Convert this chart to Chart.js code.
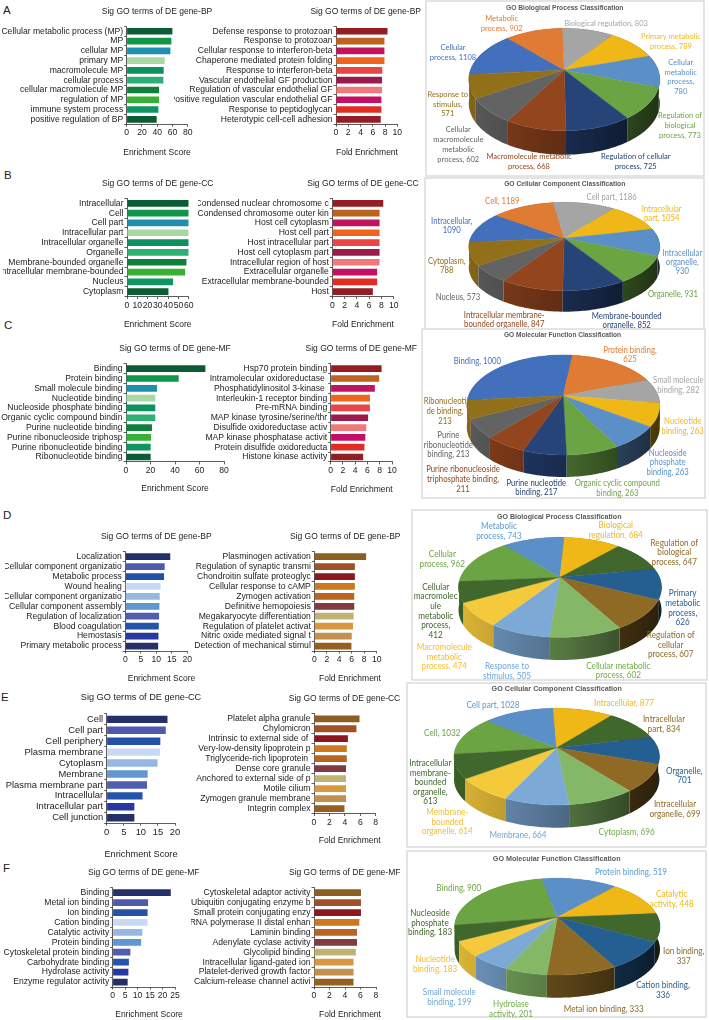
<!DOCTYPE html>
<html>
<head>
<meta charset="utf-8">
<title>GO enrichment</title>
<script src="https://cdn.jsdelivr.net/npm/chart.js@4/dist/chart.umd.min.js"></script>
<style>
  html, body { margin: 0; padding: 0; background: #fff; }
  body { position: relative; width: 709px; height: 1020px; overflow: hidden; }
  canvas { position: absolute; }
  .tag { position: absolute; font: 11.5px "Liberation Sans", sans-serif; color: #222; line-height: 12px; }
</style>
</head>
<body>
<span class="tag" style="left:3px;top:4px">A</span>
<span class="tag" style="left:4px;top:169px">B</span>
<span class="tag" style="left:4px;top:319px">C</span>
<span class="tag" style="left:3px;top:509px">D</span>
<span class="tag" style="left:1px;top:691px">E</span>
<span class="tag" style="left:3px;top:862px">F</span>
<script>
// Bar data, row by row
const aTermsL = ["Cellular metabolic process (MP)", "MP", "cellular MP", "primary MP", "macromolecule MP", "cellular process", "cellular macromolecule MP", "regulation of MP", "immune system process", "positive regulation of BP"];
const aScores = [59.9, 58.6, 57.3, 49.8, 48.5, 48.1, 42.4, 42.4, 41.5, 39.3];
const aTermsR = ["Defense response to protozoan", "Response to protozoan", "Cellular response to interferon-beta", "Chaperone mediated protein folding", "Response to interferon-beta", "Vascular endothelial GF production", "Regulation of vascular endothelial GF", "Positive regulation vascular endothelial GF", "Response to peptidoglycan", "Heterotypic cell-cell adhesion"];
const aFold = [8.4, 7.9, 7.9, 7.9, 7.55, 7.5, 7.5, 7.4, 7.4, 7.3];

const bTermsL = ["Intracellular", "Cell", "Cell part", "Intracellular part", "Intracellular organelle", "Organelle", "Membrane-bounded organelle", "Intracellular membrane-bounded", "Nucleus", "Cytoplasm"];
const bScores = [60, 60, 60, 60, 60, 60, 57.8, 56.5, 44.8, 40.3];
const bTermsR = ["Condensed nuclear chromosome c", "Condensed chromosome outer kin", "Host cell cytoplasm", "Host cell part", "Host intracellular part", "Host cell cytoplasm part", "Intracellular region of host", "Extracellular organelle", "Extracellular membrane-bounded", "Host"];
const bFold = [8.3, 7.7, 7.7, 7.7, 7.7, 7.7, 7.7, 7.3, 7.3, 6.6];

const cTermsL = ["Binding", "Protein binding", "Small molecule binding", "Nucleotide binding", "Nucleoside phosphate binding", "Organic cyclic compound bindin", "Purine nucleotide binding", "Purine ribonucleoside triphosp", "Purine ribonucleotide binding", "Ribonucleotide binding"];
const cScores = [64.8, 43, 25.3, 23.9, 23.9, 23.9, 21.2, 20.4, 20.1, 20.1];
const cTermsR = ["Hsp70 protein binding", "Intramolecular oxidoreductase ", "Phosphatidylinositol 3-kinase ", "Interleukin-1 receptor binding", "Pre-mRNA binding", "MAP kinase tyrosine/serine/thr", "Disulfide oxidoreductase activ", "MAP kinase phosphatase activit", "Protein disulfide oxidoreducta", "Histone kinase activity"];
const cFold = [8.3, 7.9, 7.2, 6.4, 6.4, 6.1, 5.8, 5.65, 5.5, 5.3];

const dTermsL = ["Localization", "Cellular component organizatio", "Metabolic process", "Wound healing", "Cellular component organizatio", "Cellular component assembly", "Regulation of localization", "Blood coagulation", "Hemostasis", "Primary metabolic process"];
const dScores = [14.5, 12.7, 12.5, 11.4, 11.1, 11, 10.9, 10.8, 10.7, 10.6];
const dTermsR = ["Plasminogen activation", "Regulation of synaptic transmi", "Chondroitin sulfate proteoglyc", "Cellular response to cAMP", "Zymogen activation", "Definitive hemopoiesis", "Megakaryocyte differentiation", "Regulation of platelet activat", "Nitric oxide mediated signal t", "Detection of mechanical stimul"];
const dFold = [8.3, 6.5, 6.5, 6.5, 6.4, 6.4, 6.3, 6.2, 6, 5.95];

const eTermsL = ["Cell", "Cell part", "Cell periphery", "Plasma membrane", "Cytoplasm", "Membrane", "Plasma membrane part", "Intracellular", "Intracellular part", "Cell junction"];
const eScores = [17.8, 17.3, 15.7, 15.6, 14.9, 12, 11.8, 10.5, 8.1, 8.1];
const eTermsR = ["Platelet alpha granule", "Chylomicron", "Intrinsic to external side of ", "Very-low-density lipoprotein p", "Triglyceride-rich lipoprotein ", "Dense core granule", "Anchored to external side of p", "Motile cilium", "Zymogen granule membrane", "Integrin complex"];
const eFold = [5.9, 5.5, 4.4, 4.25, 4.25, 4.15, 4.15, 4.15, 4.15, 3.95];

const fTermsL = ["Binding", "Metal ion binding", "Ion binding", "Cation binding", "Catalytic activity", "Protein binding", "Cytoskeletal protein binding", "Carbohydrate binding", "Hydrolase activity", "Enzyme regulator activity"];
const fScores = [23.3, 14.2, 14, 14, 11.9, 11.4, 7.1, 6.5, 6.3, 6];
const fTermsR = ["Cytoskeletal adaptor activity", "Ubiquitin conjugating enzyme b", "Small protein conjugating enzy", "RNA polymerase II distal enhan", "Laminin binding", "Adenylate cyclase activity", "Glycolipid binding", "Intracellular ligand-gated ion", "Platelet-derived growth factor", "Calcium-release channel activi"];
const fFold = [6.06, 6.06, 6.06, 5.85, 5.55, 5.55, 5.4, 5.1, 5.1, 5.1];

// Pie data, largest first as the slices run clockwise
const pieATerms = [["Cellular", "process, 1108"], ["Metabolic", "process, 902"], ["Biological regulation, 803"], ["Primary metabolic", "process, 789"], ["Cellular", "metabolic", "process,", "780"], ["Regulation of", "biological", "process, 773"], ["Regulation of cellular", "process, 725"], ["Macromolecule metabolic", "process, 668"], ["Cellular", "macromolecule", "metabolic", "process, 602"], ["Response to", "stimulus,", "571"]];
const pieAValues = [1108, 902, 803, 789, 780, 773, 725, 668, 602, 571];
const pieBTerms = [["Intracellular,", "1090"], ["Cell, 1189"], ["Cell part, 1186"], ["Intracellular", "part, 1054"], ["Intracellular", "organelle,", "930"], ["Organelle, 931"], ["Membrane-bounded", "organelle, 852"], ["Intracellular membrane-", "bounded organelle, 847"], ["Nucleus, 573"], ["Cytoplasm,", "788"]];
const pieBValues = [1090, 1189, 1186, 1054, 930, 931, 852, 847, 573, 788];
const pieCTerms = [["Binding, 1000"], ["Protein binding,", "625"], ["Small molecule", "binding, 282"], ["Nucleotide", "binding, 263"], ["Nucleoside", "phosphate", "binding, 263"], ["Organic cyclic compound", "binding, 263"], ["Purine nucleotide", "binding, 217"], ["Purine ribonucleoside", "triphosphate binding,", "211"], ["Purine", "ribonucleotide", "binding, 213"], ["Ribonucleoti", "de binding,", "213"]];
const pieCValues = [1000, 625, 282, 263, 263, 263, 217, 211, 213, 213];
const pieDTerms = [["Cellular", "process, 962"], ["Metabolic", "process, 743"], ["Biological", "regulation, 684"], ["Regulation of", "biological", "process, 647"], ["Primary", "metabolic", "process,", "626"], ["Regulation of", "cellular", "process, 607"], ["Cellular metabolic", "process, 602"], ["Response to", "stimulus, 505"], ["Macromolecule", "metabolic", "process, 474"], ["Cellular", "macromolec", "ule", "metabolic", "process,", "412"]];
const pieDValues = [962, 743, 684, 647, 626, 607, 602, 505, 474, 412];
const pieETerms = [["Cell, 1032"], ["Cell part, 1028"], ["Intracellular, 877"], ["Intracellular", "part, 834"], ["Organelle,", "701"], ["Intracellular", "organelle, 699"], ["Cytoplasm, 696"], ["Membrane, 664"], ["Membrane-", "bounded", "organelle, 614"], ["Intracellular", "membrane-", "bounded", "organelle,", "613"]];
const pieEValues = [1032, 1028, 877, 834, 701, 699, 696, 664, 614, 613];
const pieFTerms = [["Binding, 900"], ["Protein binding, 519"], ["Catalytic", "activity, 448"], ["Ion binding,", "337"], ["Cation binding,", "336"], ["Metal ion binding, 333"], ["Hydrolase", "activity, 201"], ["Small molecule", "binding, 199"], ["Nucleotide", "binding, 183"], ["Nucleoside", "phosphate", "binding, 183"]];
const pieFValues = [900, 519, 448, 337, 336, 333, 201, 199, 183, 183];

// Colours
const greens = ["#0b5c34", "#109647", "#1f8fae", "#a9d8a5", "#0e9160", "#2cb172", "#0f7f3a", "#35b233", "#0f9464", "#0b5c34"];
const reds = ["#941d24", "#bd621f", "#c2135f", "#f0641e", "#ea4545", "#9a1b4a", "#f07a7a", "#c40f64", "#e22c22", "#941d24"];
const blues = ["#252f69", "#4f5aae", "#2351a8", "#c8daf2", "#94b8e3", "#5f97d2", "#515daf", "#2353aa", "#2736a0", "#252f69"];
const browns = ["#8b5e21", "#a05126", "#8c1722", "#cb7821", "#b96420", "#813a40", "#bfb275", "#d9983e", "#c38f4d", "#965f1f"];
const officeMix = ["#4270bd", "#e07b34", "#a5a5a5", "#f0b816", "#5b8fc8", "#6ba543", "#264478", "#93451e", "#636363", "#92701a"];
const officeMono = ["#6ba543", "#5b8fc8", "#f0b816", "#41682c", "#255e91", "#8f6a25", "#84b866", "#7ca9d6", "#f5c93c", "#41682c"];
const monoText = ["#6ba543", "#5b9bd5", "#f0b816", "#8f6a25", "#255e91", "#8f6a25", "#70ad47", "#6fa5d8", "#f5bd30", "#41682c"];

const FONT = '"Liberation Sans", sans-serif';

// Text placed at page coordinates above and below each bar panel
const captionPlugin = {
  id: "captions",
  afterDraw(chart, args, o) {
    const ctx = chart.ctx;
    ctx.save();
    ctx.font = o.size + "px " + FONT;
    ctx.fillStyle = "#222";
    ctx.textAlign = "center";
    ctx.textBaseline = "middle";
    ctx.fillText(o.title, o.titleX - o.left, o.titleY - o.top);
    ctx.fillText(o.label, o.labelX - o.left, o.labelY - o.top);
    ctx.restore();
  },
};

function addCanvas(left, top, w, h) {
  const c = document.createElement("canvas");
  c.width = w;
  c.height = h;
  c.style.left = left + "px";
  c.style.top = top + "px";
  c.style.width = w + "px";
  c.style.height = h + "px";
  document.body.appendChild(c);
  return c;
}

function barPanel(g, terms, values, colours, max, step) {
  const top = Math.floor(g.titleY - 8);
  const right = Math.ceil(Math.max(g.plotR + 14, g.titleX + 64, g.labelX + 44));
  const w = right - g.clip;
  const h = Math.ceil(g.labelY + 8) - top;
  const size = g.font || 8.6;
  new Chart(addCanvas(g.clip, top, w, h), {
    type: "bar",
    plugins: [captionPlugin],
    data: {
      labels: terms,
      datasets: [{ data: values, backgroundColor: colours, barPercentage: 0.68, categoryPercentage: 1 }],
    },
    options: {
      indexAxis: "y",
      responsive: false,
      animation: false,
      layout: { padding: { left: 0, top: g.plotT - top, right: w - (g.plotR - g.clip), bottom: h - (g.plotB - top) - 16 } },
      plugins: {
        legend: { display: false },
        tooltip: { enabled: false },
        captions: { title: g.title, titleX: g.titleX, titleY: g.titleY, label: g.label, labelX: g.labelX, labelY: g.labelY, left: g.clip, top: top, size: g.capSize || 8.5 },
      },
      scales: {
        x: {
          min: 0, max: max,
          afterFit(s) { s.height = 16; },
          border: { color: "#333", width: 0.8 },
          grid: { drawOnChartArea: false, color: "#333", tickLength: 2.5, lineWidth: 0.8 },
          ticks: { stepSize: step, padding: 1, color: "#222", maxRotation: 0, autoSkip: false, font: { family: FONT, size: size } },
        },
        y: {
          afterFit(s) { s.width = g.plotL - g.clip; },
          border: { color: "#333", width: 0.8 },
          grid: { drawOnChartArea: false, color: "#333", tickLength: 2.5, lineWidth: 0.8 },
          ticks: { padding: 1, color: "#222", autoSkip: false, font: { family: FONT, size: size } },
        },
      },
    },
  });
}

function shade(hex, k) {
  const n = parseInt(hex.slice(1), 16);
  return "rgb(" + [(n >> 16) & 255, (n >> 8) & 255, n & 255].map((v) => Math.round(v * k)).join(",") + ")";
}

// Tilted pie with a wall, taken from the arcs Chart.js worked out
const tiltedPie = {
  id: "tiltedPie",
  beforeDraw(chart, args, o) {
    const ctx = chart.ctx;
    ctx.save();
    ctx.fillStyle = "#fff";
    ctx.fillRect(0, 0, chart.width, chart.height);
    ctx.strokeStyle = "#d6d6d6";
    ctx.lineWidth = 1.3;
    ctx.strokeRect(1, 1, chart.width - 2, chart.height - 2);
    ctx.restore();
  },
  beforeDatasetsDraw(chart, args, o) {
    const ctx = chart.ctx;
    const cx = o.cx - o.left, cy = o.cy - o.top;
    const q = (o.down - o.up) / (o.down + o.up);
    const a = 2 * o.down * o.up / (o.down + o.up);
    const b = o.rx * Math.sqrt(1 - q * q);
    const project = (t) => {
      const d = 1 - q * Math.sin(t);
      return [cx + b * Math.cos(t) / d, cy + a * Math.sin(t) / d];
    };
    const arcs = chart.getDatasetMeta(0).data.map((arc, i) => {
      const pts = [];
      const steps = Math.ceil((arc.endAngle - arc.startAngle) / 0.02);
      for (let s = 0; s <= steps; s++) pts.push(project(arc.startAngle + (arc.endAngle - arc.startAngle) * s / steps));
      return { pts, colour: chart.data.datasets[0].backgroundColor[i], mid: Math.sin((arc.startAngle + arc.endAngle) / 2) };
    });
    // walls, far side first
    [...arcs].sort((p, r) => p.mid - r.mid).forEach((s) => {
      const g = ctx.createLinearGradient(cx - o.rx, 0, cx + o.rx, 0);
      g.addColorStop(0, shade(s.colour, 0.9));
      g.addColorStop(0.5, shade(s.colour, 0.65));
      g.addColorStop(1, shade(s.colour, 0.3));
      ctx.beginPath();
      s.pts.forEach((p, i) => (i ? ctx.lineTo(p[0], p[1]) : ctx.moveTo(p[0], p[1])));
      [...s.pts].reverse().forEach((p) => ctx.lineTo(p[0], p[1] + o.depth));
      ctx.closePath();
      ctx.fillStyle = g;
      ctx.fill();
    });
    // top surface
    arcs.forEach((s) => {
      ctx.beginPath();
      ctx.moveTo(cx, cy);
      s.pts.forEach((p) => ctx.lineTo(p[0], p[1]));
      ctx.closePath();
      ctx.fillStyle = s.colour;
      ctx.strokeStyle = s.colour;
      ctx.lineWidth = 0.4;
      ctx.fill();
      ctx.stroke();
    });
    return false;
  },
  afterDraw(chart, args, o) {
    const ctx = chart.ctx;
    ctx.save();
    ctx.textAlign = "center";
    ctx.textBaseline = "middle";
    ctx.font = "bold " + o.titleSize + "px " + FONT;
    ctx.fillStyle = "#595959";
    ctx.fillText(o.title, o.titleX - o.left, o.titleY - o.top);
    ctx.font = o.size + 'px Lato, sans-serif';
    chart.data.labels.forEach((lines, i) => {
      ctx.fillStyle = o.textColours[i];
      // Lato runs wider than the original face, so squeeze a little
      lines.forEach((line, k) => ctx.fillText(line, o.spots[i][0] - o.left, o.spots[i][1] + k * o.leading - o.top, ctx.measureText(line).width * 0.9));
    });
    ctx.restore();
  },
};

function piePanel(g, terms, values, colours, textColours) {
  new Chart(addCanvas(g.left, g.top, g.w, g.h), {
    type: "pie",
    plugins: [tiltedPie],
    data: { labels: terms, datasets: [{ data: values, backgroundColor: colours, borderWidth: 0 }] },
    options: {
      responsive: false,
      animation: false,
      rotation: g.rotation,
      plugins: {
        legend: { display: false },
        tooltip: { enabled: false },
        tiltedPie: { ...g, textColours },
      },
    },
  });
}

const ES = "Enrichment Score", FE = "Fold Enrichment";
const BP = "Sig GO terms of DE gene-BP", CC = "Sig GO terms of DE gene-CC", MF = "Sig GO terms of DE gene-MF";

barPanel({ clip: 0, plotL: 126.7, plotR: 187.7, plotT: 26.4, plotB: 124.2, title: BP, titleX: 157, titleY: 11.3, label: ES, labelX: 157, labelY: 152.7 }, aTermsL, aScores, greens, 80, 20);
barPanel({ clip: 174, plotL: 336, plotR: 397.3, plotT: 26.4, plotB: 124.2, title: BP, titleX: 365.7, titleY: 11.3, label: FE, labelX: 367, labelY: 152.7 }, aTermsR, aFold, reds, 10, 2);
barPanel({ clip: 3, plotL: 127, plotR: 188.7, plotT: 198.4, plotB: 296.6, title: CC, titleX: 157.7, titleY: 183.3, label: ES, labelX: 157.7, labelY: 324.3 }, bTermsL, bScores, greens, 60, 10);
barPanel({ clip: 198, plotL: 332.3, plotR: 393.7, plotT: 198.4, plotB: 296.6, title: CC, titleX: 363, titleY: 183.3, label: FE, labelX: 363, labelY: 324.3 }, bTermsR, bFold, reds, 10, 2);
barPanel({ clip: 0, plotL: 126, plotR: 224, plotT: 363.8, plotB: 461.9, title: MF, titleX: 175, titleY: 349, label: ES, labelX: 175, labelY: 488.3 }, cTermsL, cScores, greens, 80, 20);
barPanel({ clip: 205, plotL: 330.7, plotR: 392, plotT: 363.8, plotB: 461.9, title: MF, titleX: 361.3, titleY: 349, label: FE, labelX: 361.7, labelY: 489.7 }, cTermsR, cFold, reds, 10, 2);
barPanel({ clip: 5, plotL: 125.3, plotR: 187.3, plotT: 551.7, plotB: 651, title: BP, titleX: 156.3, titleY: 536.7, label: ES, labelX: 161.5, labelY: 679 }, dTermsL, dScores, blues, 20, 5);
barPanel({ clip: 190, plotL: 314.3, plotR: 376.7, plotT: 551.7, plotB: 651, title: BP, titleX: 345.2, titleY: 536.7, label: FE, labelX: 350, labelY: 679 }, dTermsR, dFold, browns, 10, 2);
barPanel({ clip: 0, plotL: 106.7, plotR: 175, plotT: 713.9, plotB: 823.2, title: CC, titleX: 141, titleY: 697.3, label: ES, labelX: 141, labelY: 854.7, font: 9.4, capSize: 9.2 }, eTermsL, eScores, blues, 20, 5);
barPanel({ clip: 195, plotL: 314, plotR: 375.7, plotT: 713.8, plotB: 813.5, title: CC, titleX: 344.5, titleY: 698.7, label: FE, labelX: 349.7, labelY: 841 }, eTermsR, eFold, browns, 8, 2);
barPanel({ clip: 4, plotL: 112.7, plotR: 175, plotT: 887.7, plotB: 987, title: MF, titleX: 143.7, titleY: 872.3, label: ES, labelX: 149, labelY: 1014.7 }, fTermsL, fScores, blues, 25, 5);
barPanel({ clip: 191, plotL: 314, plotR: 376, plotT: 887.7, plotB: 987, title: MF, titleX: 344.7, titleY: 872.3, label: FE, labelX: 350, labelY: 1014.7 }, fTermsR, fFold, browns, 8, 2);

piePanel({ left: 425, top: 0, w: 280, h: 177, rotation: -95, cx: 564.3, cy: 70, rx: 95.5, up: 41.7, down: 60.7, depth: 24, title: "GO Biological Process Classification", titleX: 564.7, titleY: 8.3, titleSize: 6.7, size: 8.4, leading: 9.8,
  spots: [[453, 47], [501.7, 18], [606, 23.3], [671, 36], [680.7, 62], [680, 115.3], [635.7, 156.3], [529, 156.7], [458.3, 129.7], [447.7, 94]] }, pieATerms, pieAValues, officeMix, officeMix);
piePanel({ left: 424, top: 177, w: 281, h: 154, rotation: -95, cx: 564.3, cy: 238.3, rx: 95.5, up: 36, down: 52.4, depth: 21, title: "GO Cellular Component Classification", titleX: 564.7, titleY: 183.7, titleSize: 6.7, size: 8.6, leading: 8.8,
  spots: [[451.7, 221], [502.3, 201.7], [611.7, 197], [661.7, 209.3], [682.3, 253.7], [673, 294.3], [626.7, 316], [504.3, 315.3], [458, 297.7], [446.7, 261.7]] }, pieBTerms, pieBValues, officeMix, officeMix);
piePanel({ left: 421, top: 328, w: 285, h: 171, rotation: -95, cx: 563.3, cy: 395.7, rx: 96.5, up: 40.7, down: 59.3, depth: 22, title: "GO Molecular Function Classification", titleX: 562.5, titleY: 334.7, titleSize: 6.6, size: 8.6, leading: 9.6,
  spots: [[477.3, 361.7], [630, 350], [678.3, 380.7], [682.7, 421.3], [667.7, 453], [617.3, 483.7], [536.3, 483], [463, 469.7], [448.3, 435.3], [445, 401.7]] }, pieCTerms, pieCValues, officeMix, officeMix);
piePanel({ left: 411, top: 509, w: 297, h: 172, rotation: -95, cx: 560, cy: 577.3, rx: 101.5, up: 40, down: 60, depth: 22.7, title: "GO Biological Process Classification", titleX: 559.2, titleY: 517, titleSize: 7.1, size: 9.1, leading: 9.7,
  spots: [[442.3, 554], [499, 526], [615.7, 525], [674.3, 542.7], [682.7, 593.3], [670.7, 635], [618.3, 665.7], [507, 666.3], [444.3, 647], [435.7, 586.7]] }, pieDTerms, pieDValues, officeMono, monoText);
piePanel({ left: 406, top: 682, w: 301, h: 166, rotation: -98, cx: 556.7, cy: 747.7, rx: 102.7, up: 39.4, down: 57.3, depth: 22.7, title: "GO Cellular Component Classification", titleX: 556.7, titleY: 689.3, titleSize: 7.2, size: 9.1, leading: 9.6,
  spots: [[442.3, 732.7], [493, 705], [624, 703.3], [664, 719], [684.3, 770.7], [675, 804], [626.7, 832.3], [518, 834.7], [447.3, 812], [430.3, 763]] }, pieETerms, pieEValues, officeMono, monoText);
piePanel({ left: 406, top: 850, w: 301, h: 168, rotation: -99.4, cx: 557.3, cy: 917.3, rx: 102.7, up: 39, down: 57.7, depth: 22.7, title: "GO Molecular Function Classification", titleX: 556.7, titleY: 858.7, titleSize: 7.2, size: 9, leading: 9.6,
  spots: [[458.7, 888], [631, 872.3], [671.7, 894], [683.7, 951.3], [663, 985.3], [603.7, 1009], [511, 1004], [449.3, 992], [435, 959.3], [430, 913.3]] }, pieFTerms, pieFValues, officeMono, monoText);
</script>
</body>
</html>
